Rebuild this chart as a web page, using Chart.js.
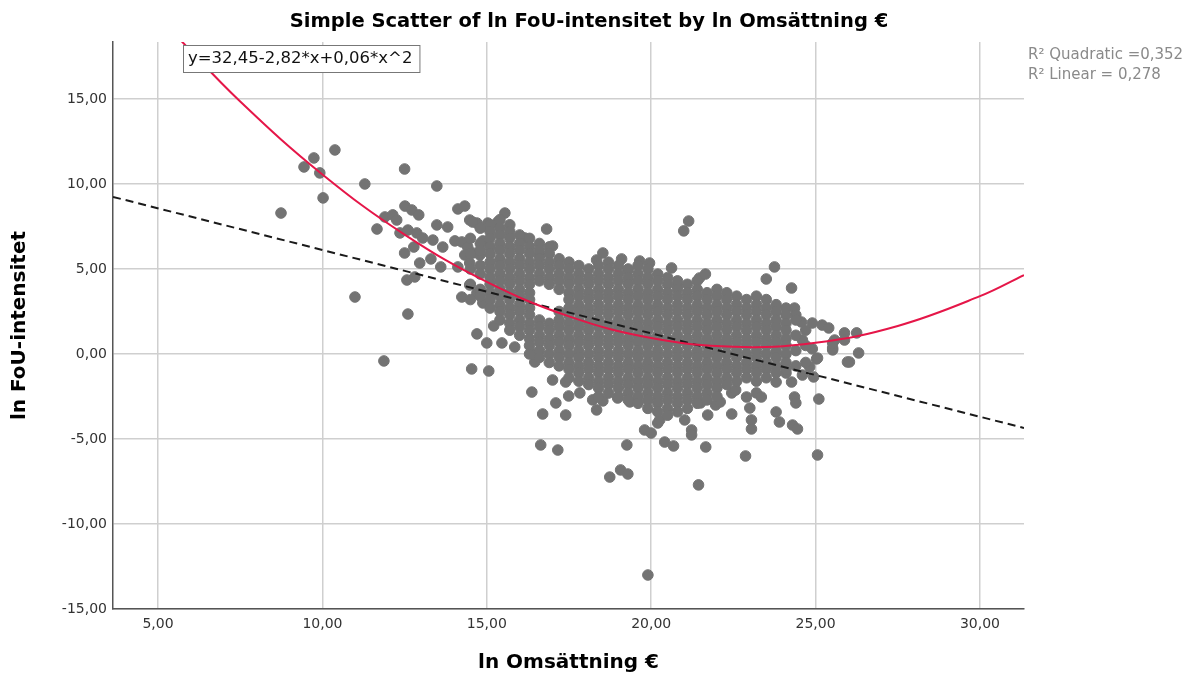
<!DOCTYPE html>
<html>
<head>
<meta charset="utf-8">
<script src="https://cdn.jsdelivr.net/npm/chart.js@4.4.1/dist/chart.umd.min.js"></script>
<style>
html, body { margin: 0; padding: 0; background: #fff; }
</style>
</head>
<body>
<canvas id="chart" width="1195" height="678"></canvas>
<script>
// axis ticks
const xTicks = [5, 10, 15, 20, 25, 30];
const yTicks = [-15, -10, -5, 0, 5, 10, 15];

const outliers = [
  [8.74,8.29],[9.44,11.0],[9.74,11.53],[9.92,10.65],[10.02,9.18],[10.38,12.0],[11.29,10.0],[10.99,3.35],
  [11.87,-0.41],[12.5,10.88],[13.48,9.88],[12.6,2.35],[12.51,8.7],[12.72,8.47],[12.93,8.18],[11.9,8.06],
  [12.14,8.18],[12.26,7.88],[11.66,7.35],[12.36,7.12],[12.6,7.29],[12.87,7.12],[13.05,6.82],[12.5,5.94],
  [12.78,6.29],[12.96,5.35],[12.57,4.35],[12.81,4.53],[13.36,6.7],[13.48,7.59],[13.81,7.47],[13.3,5.59],
  [13.66,6.29],[13.6,5.12],[14.12,8.53],[14.33,8.7],[14.48,7.88],[14.7,7.7],[14.03,6.65],[14.24,6.59],
  [14.42,6.29],[14.33,5.82],[14.57,5.94],[14.79,5.82],[14.12,5.12],[14.48,5.35],[14.88,6.65],[15.0,7.47],
  [14.24,3.35],[14.48,4.06],[14.7,3.59],[14.88,3.0],[14.7,1.18],[14.54,-0.88],[15.0,0.65],[15.06,-1.0],
  [15.46,0.65],[15.85,0.41],[15.21,1.65],[15.55,8.29],[16.82,7.35],[14.57,7.76],[15.03,7.7],[15.33,7.76],
  [16.16,6.82],[17.0,6.35],[16.6,5.82],[18.53,5.94],[19.1,5.59],[19.65,5.47],[19.95,5.35],[18.34,5.53],
  [19.29,4.94],[20.62,5.06],[16.37,-2.24],[16.7,-3.53],[17.1,-2.88],[17.4,-3.59],[17.49,-2.47],[16.64,-5.35],
  [17.16,-5.65],[19.26,-5.35],[18.74,-7.24],[19.07,-6.82],[19.29,-7.06],[19.8,-4.47],[20.0,-4.65],[17.0,-1.53],
  [17.4,-1.65],[17.83,-2.29],[18.22,-2.7],[18.34,-3.29],[18.53,-2.76],[18.98,-2.59],[19.35,-2.82],[16.46,-0.47],
  [16.4,0.0],[21.44,-7.7],[22.87,-6.0],[25.06,-5.94],[21.66,-5.47],[20.41,-5.18],[20.68,-5.41],[21.23,-4.47],
  [21.23,-4.76],[21.02,-3.88],[20.2,-4.06],[21.72,-3.59],[22.45,-3.53],[23.05,-3.88],[23.05,-4.41],[23.0,-3.18],
  [23.8,-3.41],[23.9,-4.0],[24.3,-4.18],[24.45,-4.41],[24.36,-2.53],[24.4,-2.88],[25.1,-2.65],[21.96,-3.0],
  [22.1,-2.82],[22.9,-2.53],[23.2,-2.29],[23.35,-2.53],[22.45,-2.29],[22.57,-2.12],[21.5,-2.88],[24.27,-1.65],
  [24.94,-1.35],[25.03,-0.29],[25.52,0.24],[26.03,-0.47],[26.31,0.06],[24.6,-1.24],[24.82,-0.76],[23.8,-1.65],
  [24.1,-1.12],[19.9,-13.0],[20.26,-3.88],[21.14,7.82],[20.99,7.24],[23.75,5.12],[23.5,4.41],[24.27,3.88],
  [21.47,4.47],[21.65,4.7],[20.8,4.0],[24.36,2.7],[24.4,2.29],[24.57,1.88],[24.9,1.82],[25.2,1.7],
  [25.4,1.53],[25.88,1.24],[26.25,1.24],[25.58,0.82],[25.52,0.35],[25.88,0.82],[25.97,-0.47],[25.06,-0.24],
  [25.52,0.65],[24.6,0.82],[24.9,0.3]
];

// the dense middle of the cloud, column by column
const coreX = [14.5, 14.8, 15.1, 15.4, 15.7, 16.0, 16.3, 16.6, 16.9, 17.2, 17.5, 17.8, 18.1, 18.4, 18.7,
  19.0, 19.3, 19.6, 19.9, 20.2, 20.5, 20.8, 21.1, 21.4, 21.7, 22.0, 22.3, 22.6, 22.9, 23.2, 23.5, 23.8,
  24.1, 24.4, 24.7];
const coreY = [
  [6.8, 5.9, 5.0, 4.1, 3.2],
  [7.4, 6.5, 6.1, 5.2, 4.7, 3.8, 3.4],
  [7.6, 7.2, 6.8, 6.3, 5.9, 5.4, 5.0, 4.5, 4.1, 3.6, 3.2, 2.7],
  [7.9, 7.4, 7.0, 6.5, 6.1, 5.6, 5.2, 4.7, 4.3, 3.8, 3.4, 2.9, 2.5, 2.0],
  [7.6, 7.2, 6.8, 6.3, 5.9, 5.4, 5.0, 4.5, 4.1, 3.6, 3.2, 2.7, 2.3, 1.8, 1.4],
  [7.0, 6.5, 6.1, 5.6, 5.2, 4.7, 4.3, 3.8, 3.4, 2.9, 2.5, 2.0, 1.6, 1.1],
  [6.8, 6.3, 5.9, 5.4, 5.0, 4.5, 4.1, 3.6, 3.2, 2.7, 2.3, 1.8, 1.4, 0.9, 0.5, 0.0],
  [6.5, 6.1, 5.6, 5.2, 4.7, 4.3, 2.0, 1.6, 1.1, 0.7, 0.2, -0.2],
  [6.3, 5.9, 5.4, 5.0, 4.5, 4.1, 1.8, 1.4, 0.9, 0.5, 0.0, -0.5],
  [5.6, 5.2, 4.7, 4.3, 3.8, 2.5, 2.0, 1.6, 1.1, 0.7, 0.2, -0.2, -0.7],
  [5.4, 5.0, 4.5, 4.1, 3.6, 3.2, 2.7, 2.3, 1.8, 1.4, 0.9, 0.5, 0.0, -0.5, -0.9, -1.4],
  [5.2, 4.7, 4.3, 3.8, 3.4, 2.9, 2.5, 2.0, 1.6, 1.1, 0.7, 0.2, -0.2, -0.7, -1.1, -1.6],
  [5.0, 4.5, 4.1, 3.6, 3.2, 2.7, 2.3, 1.8, 1.4, 0.9, 0.5, 0.0, -0.5, -0.9, -1.4, -1.8],
  [5.2, 4.7, 4.3, 3.8, 3.4, 2.9, 2.5, 2.0, 1.6, 1.1, 0.7, 0.2, -0.2, -0.7, -1.1, -1.6, -2.0, -2.5],
  [5.4, 5.0, 4.5, 4.1, 3.6, 3.2, 2.7, 2.3, 1.8, 1.4, 0.9, 0.5, 0.0, -0.5, -0.9, -1.4, -1.8, -2.3],
  [5.2, 4.7, 4.3, 3.8, 3.4, 2.9, 2.5, 2.0, 1.6, 1.1, 0.7, 0.2, -0.2, -0.7, -1.1, -1.6, -2.0, -2.5],
  [5.0, 4.5, 4.1, 3.6, 3.2, 2.7, 2.3, 1.8, 1.4, 0.9, 0.5, 0.0, -0.5, -0.9, -1.4, -1.8, -2.3, -2.7],
  [5.2, 4.7, 4.3, 3.8, 3.4, 2.9, 2.5, 2.0, 1.6, 1.1, 0.7, 0.2, -0.2, -0.7, -1.1, -1.6, -2.0, -2.5, -2.9],
  [5.0, 4.5, 4.1, 3.6, 3.2, 2.7, 2.3, 1.8, 1.4, 0.9, 0.5, 0.0, -0.5, -0.9, -1.4, -1.8, -2.3, -2.7, -3.2],
  [4.7, 4.3, 3.8, 3.4, 2.9, 2.5, 2.0, 1.6, 1.1, 0.7, 0.2, -0.2, -0.7, -1.1, -1.6, -2.0, -2.5, -2.9, -3.4],
  [4.5, 4.1, 3.6, 3.2, 2.7, 2.3, 1.8, 1.4, 0.9, 0.5, 0.0, -0.5, -0.9, -1.4, -1.8, -2.3, -2.7, -3.2, -3.6],
  [4.3, 3.8, 3.4, 2.9, 2.5, 2.0, 1.6, 1.1, 0.7, 0.2, -0.2, -0.7, -1.1, -1.6, -2.0, -2.5, -2.9, -3.4],
  [4.1, 3.6, 3.2, 2.7, 2.3, 1.8, 1.4, 0.9, 0.5, 0.0, -0.5, -0.9, -1.4, -1.8, -2.3, -2.7, -3.2],
  [4.3, 3.8, 3.4, 2.9, 2.5, 2.0, 1.6, 1.1, 0.7, 0.2, -0.2, -0.7, -1.1, -1.6, -2.0, -2.5, -2.9],
  [3.6, 3.2, 2.7, 2.3, 1.8, 1.4, 0.9, 0.5, 0.0, -0.5, -0.9, -1.4, -1.8, -2.3, -2.7],
  [3.8, 3.4, 2.9, 2.5, 2.0, 1.6, 1.1, 0.7, 0.2, -0.2, -0.7, -1.1, -1.6, -2.0, -2.5],
  [3.6, 3.2, 2.7, 2.3, 1.8, 1.4, 0.9, 0.5, 0.0, -0.5, -0.9, -1.4, -1.8],
  [3.4, 2.9, 2.5, 2.0, 1.6, 1.1, 0.7, 0.2, -0.2, -0.7, -1.1, -1.6],
  [3.2, 2.7, 2.3, 1.8, 1.4, 0.9, 0.5, 0.0, -0.5, -0.9, -1.4],
  [3.4, 2.9, 2.5, 2.0, 1.6, 1.1, 0.7, 0.2, -0.2, -0.7, -1.1, -1.6],
  [3.2, 2.7, 2.3, 1.8, 1.4, 0.9, 0.5, 0.0, -0.5, -0.9, -1.4],
  [2.9, 2.5, 2.0, 1.6, 1.1, 0.7, 0.2, -0.2, -0.7, -1.1],
  [2.7, 2.3, 1.8, 1.4, 0.9, 0.5, 0.0, -0.5, -0.9],
  [2.0, 1.1, 0.2, -0.7],
  [1.4, 0.5, -0.5]
];

// fit lines as they sit on the picture
const quadX = [5.5, 7.5, 10, 12.5, 15, 17.5, 20, 22.5, 25, 27.5, 30, 31.34];
const quadY = [18.83, 14.85, 10.56, 7.02, 4.24, 2.21, 0.94, 0.42, 0.66, 1.65, 3.40, 4.64];
const linX = [3.63, 31.34];
const linY = [9.24, -4.35];

const chartTitle = 'Simple Scatter of ln FoU-intensitet by ln Omsättning €';
const fitLabel = 'y=32,45-2,82*x+0,06*x^2';
const rSquared = ['R\u00b2 Quadratic =0,352', 'R\u00b2 Linear = 0,278'];

let points = outliers.map(p => ({x: p[0], y: p[1]}));
coreX.forEach((x, i) => {
  coreY[i].forEach(y => points.push({x: x, y: y}));
});

function fmt(v) {
  return v.toFixed(2).replace('.', ',');
}

const annotations = {
  id: 'annotations',
  afterDraw(chart) {
    const ctx = chart.ctx;
    const area = chart.chartArea;
    ctx.save();
    // title
    ctx.font = 'bold 19.5px "DejaVu Sans"';
    ctx.fillStyle = '#000';
    ctx.textAlign = 'center';
    ctx.textBaseline = 'middle';
    ctx.fillText(chartTitle, 589, 22);

    // equation box
    ctx.textAlign = 'left';
    ctx.font = '16.5px "DejaVu Sans"';
    const w = ctx.measureText(fitLabel).width + 12;
    const bx = area.left + 70, by = area.top + 3;
    ctx.fillStyle = '#fff';
    ctx.fillRect(bx, by, w, 27);
    ctx.strokeStyle = '#777';
    ctx.lineWidth = 1;
    ctx.strokeRect(bx + 0.5, by + 0.5, w, 27);
    ctx.fillStyle = '#111';
    ctx.fillText(fitLabel, bx + 5, by + 14);

    // R squared
    ctx.font = '15px "DejaVu Sans"';
    ctx.fillStyle = '#8a8a8a';
    ctx.textBaseline = 'alphabetic';
    rSquared.forEach((t, i) => ctx.fillText(t, area.right + 4, area.top + 17 + i * 20));
    ctx.restore();
  }
};

new Chart(document.getElementById('chart'), {
  type: 'scatter',
  data: {
    datasets: [
      {
        type: 'line',
        data: quadX.map((x, i) => ({x: x, y: quadY[i]})),
        borderColor: 'rgb(229,22,72)',
        borderWidth: 2,
        tension: 0.4,
        pointRadius: 0,
        showLine: true,
        order: 0
      },
      {
        type: 'line',
        data: linX.map((x, i) => ({x: x, y: linY[i]})),
        borderColor: '#1a1a1a',
        borderWidth: 2,
        borderDash: [8, 5],
        pointRadius: 0,
        showLine: true,
        order: 1
      },
      {
        data: points,
        backgroundColor: 'rgb(115,115,115)',
        borderColor: 'rgb(115,115,115)',
        pointRadius: 5.3,
        pointBorderWidth: 1,
        order: 2
      }
    ]
  },
  options: {
    responsive: false,
    animation: false,
    events: [],
    layout: { padding: { left: 0, right: 171, top: 42, bottom: 0 } },
    plugins: {
      legend: { display: false },
      tooltip: { enabled: false },
      title: { display: false }
    },
    scales: {
      x: {
        type: 'linear',
        min: 3.63,
        max: 31.34,
        afterBuildTicks: s => { s.ticks = xTicks.map(v => ({value: v})); },
        afterFit: s => { s.height = 69; },
        grid: { color: '#cfcfcf', lineWidth: 1.5, drawTicks: false },
        border: { color: '#555', width: 1.5 },
        ticks: {
          color: '#333',
          padding: 7,
          font: { family: 'DejaVu Sans', size: 14 },
          callback: v => fmt(v)
        },
        title: {
          display: true,
          text: 'ln Omsättning €',
          color: '#000',
          font: { family: 'DejaVu Sans', size: 20, weight: 'bold' },
          padding: { top: 0, bottom: 3 }
        }
      },
      y: {
        type: 'linear',
        min: -15,
        max: 18.35,
        afterBuildTicks: s => { s.ticks = yTicks.map(v => ({value: v})); },
        afterFit: s => { s.width = 113; },
        grid: { color: '#cfcfcf', lineWidth: 1.5, drawTicks: false },
        border: { color: '#555', width: 1.5 },
        ticks: {
          color: '#333',
          padding: 6,
          font: { family: 'DejaVu Sans', size: 14 },
          callback: v => fmt(v)
        },
        title: {
          display: true,
          text: 'ln FoU-intensitet',
          color: '#000',
          font: { family: 'DejaVu Sans', size: 20, weight: 'bold' },
          padding: { top: 8, bottom: 0 }
        }
      }
    }
  },
  plugins: [annotations]
});
</script>
</body>
</html>
